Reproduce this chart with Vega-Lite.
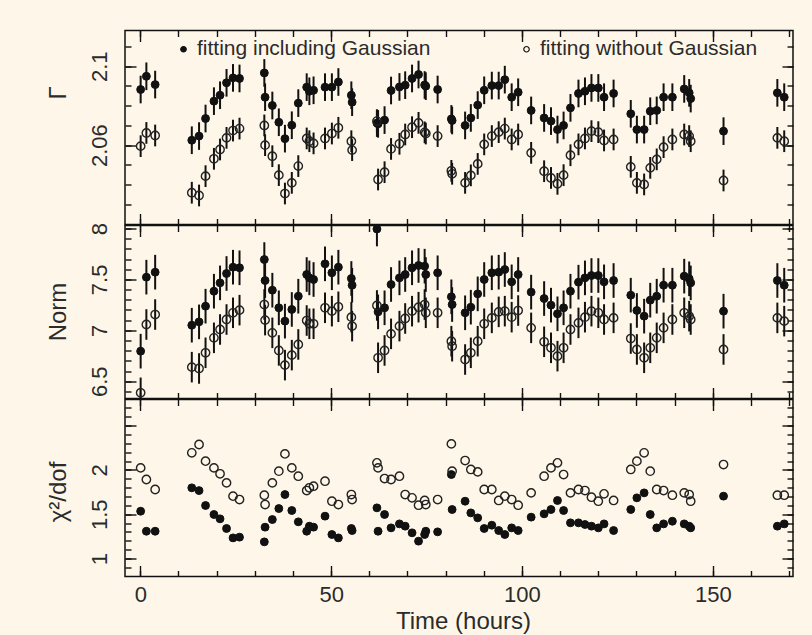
{
"$schema":"https://vega.github.io/schema/vega-lite/v6.json",
"background":"#fef7e9",
"padding":{"left":45,"top":28.5,"right":19,"bottom":2},
"bounds":"flush",
"spacing":1,
"resolve":{"scale":{"fill":"independent"}},
"config":{
 "view":{"stroke":"#111","strokeWidth":1.5},
 "axis":{"domain":false,"grid":false,"labelFont":"Liberation Sans","labelFontSize":22,"labelColor":"#2b2b2b","titleFont":"Liberation Sans","titleFontSize":24,"titleColor":"#2b2b2b","titleFontWeight":"normal","tickColor":"#111","tickWidth":1.4,"labelFlush":false,"labelOverlap":false,"labelBound":false},
 "legend":{"labelFont":"Liberation Sans","labelLimit":0}
},
"datasets":{"obs":[
{"t":0.1,"g1":2.0882,"g2":2.0595,"n1":6.795,"n2":6.386,"c1":1.534,"c2":2.023,"e1":0.007,"e2":0.0055,"f1":0.17,"f2":0.15},
{"t":1.6,"g1":2.0949,"g2":2.0662,"n1":7.522,"n2":7.057,"c1":1.308,"c2":1.892,"e1":0.007,"e2":0.0055,"f1":0.17,"f2":0.15},
{"t":3.9,"g1":2.0907,"g2":2.0649,"n1":7.571,"n2":7.155,"c1":1.308,"c2":1.779,"e1":0.007,"e2":0.0055,"f1":0.17,"f2":0.15},
{"t":13.5,"g1":2.0625,"g2":2.0359,"n1":7.05,"n2":6.638,"c1":1.798,"c2":2.193,"e1":0.007,"e2":0.0055,"f1":0.17,"f2":0.15},
{"t":15.4,"g1":2.0646,"g2":2.0345,"n1":7.083,"n2":6.625,"c1":1.767,"c2":2.287,"e1":0.007,"e2":0.0055,"f1":0.17,"f2":0.15},
{"t":17.1,"g1":2.0735,"g2":2.0443,"n1":7.237,"n2":6.779,"c1":1.598,"c2":2.099,"e1":0.007,"e2":0.0055,"f1":0.17,"f2":0.15},
{"t":19.3,"g1":2.0823,"g2":2.0531,"n1":7.384,"n2":6.926,"c1":1.497,"c2":2.023,"e1":0.007,"e2":0.0055,"f1":0.17,"f2":0.15},
{"t":20.9,"g1":2.0853,"g2":2.0578,"n1":7.466,"n2":7.008,"c1":1.448,"c2":1.956,"e1":0.007,"e2":0.0055,"f1":0.17,"f2":0.15},
{"t":22.6,"g1":2.0916,"g2":2.0637,"n1":7.558,"n2":7.106,"c1":1.339,"c2":1.854,"e1":0.007,"e2":0.0055,"f1":0.17,"f2":0.15},
{"t":24.3,"g1":2.0941,"g2":2.0674,"n1":7.62,"n2":7.172,"c1":1.233,"c2":1.704,"e1":0.007,"e2":0.0055,"f1":0.17,"f2":0.15},
{"t":26.0,"g1":2.0938,"g2":2.0684,"n1":7.614,"n2":7.198,"c1":1.241,"c2":1.666,"e1":0.007,"e2":0.0055,"f1":0.17,"f2":0.15},
{"t":32.5,"g1":2.0966,"g2":2.07,"n1":7.695,"n2":7.253,"c1":1.188,"c2":1.715,"e1":0.007,"e2":0.0055,"f1":0.17,"f2":0.15},
{"t":32.7,"g1":2.0843,"g2":2.06,"n1":7.489,"n2":7.1,"c1":1.354,"c2":1.609,"e1":0.007,"e2":0.0055,"f1":0.17,"f2":0.15},
{"t":34.6,"g1":2.0801,"g2":2.0544,"n1":7.394,"n2":6.975,"c1":1.44,"c2":1.854,"e1":0.007,"e2":0.0055,"f1":0.17,"f2":0.15},
{"t":36.3,"g1":2.0716,"g2":2.0448,"n1":7.221,"n2":6.802,"c1":1.564,"c2":1.986,"e1":0.007,"e2":0.0055,"f1":0.17,"f2":0.15},
{"t":37.9,"g1":2.0633,"g2":2.0355,"n1":7.09,"n2":6.658,"c1":1.722,"c2":2.181,"e1":0.007,"e2":0.0055,"f1":0.17,"f2":0.15},
{"t":39.7,"g1":2.0701,"g2":2.0409,"n1":7.205,"n2":6.756,"c1":1.542,"c2":2.023,"e1":0.007,"e2":0.0055,"f1":0.17,"f2":0.15},
{"t":41.4,"g1":2.0813,"g2":2.0494,"n1":7.335,"n2":6.861,"c1":1.414,"c2":1.929,"e1":0.007,"e2":0.0055,"f1":0.17,"f2":0.15},
{"t":43.6,"g1":2.0894,"g2":2.0634,"n1":7.548,"n2":7.096,"c1":1.308,"c2":1.767,"e1":0.007,"e2":0.0055,"f1":0.17,"f2":0.15},
{"t":44.3,"g1":2.0873,"g2":2.062,"n1":7.515,"n2":7.064,"c1":1.365,"c2":1.798,"e1":0.007,"e2":0.0055,"f1":0.17,"f2":0.15},
{"t":45.4,"g1":2.0878,"g2":2.0609,"n1":7.499,"n2":7.064,"c1":1.354,"c2":1.816,"e1":0.007,"e2":0.0055,"f1":0.17,"f2":0.15},
{"t":48.4,"g1":2.0894,"g2":2.0634,"n1":7.653,"n2":7.221,"c1":1.478,"c2":1.873,"e1":0.007,"e2":0.0055,"f1":0.17,"f2":0.15},
{"t":50.2,"g1":2.0894,"g2":2.0659,"n1":7.565,"n2":7.188,"c1":1.271,"c2":1.647,"e1":0.007,"e2":0.0055,"f1":0.17,"f2":0.15},
{"t":51.9,"g1":2.092,"g2":2.0688,"n1":7.62,"n2":7.231,"c1":1.233,"c2":1.609,"e1":0.007,"e2":0.0055,"f1":0.17,"f2":0.15},
{"t":55.3,"g1":2.0853,"g2":2.062,"n1":7.509,"n2":7.129,"c1":1.339,"c2":1.722,"e1":0.007,"e2":0.0055,"f1":0.17,"f2":0.15},
{"t":55.5,"g1":2.0818,"g2":2.0575,"n1":7.443,"n2":7.041,"c1":1.316,"c2":1.666,"e1":0.007,"e2":0.0055,"f1":0.17,"f2":0.15},
{"t":62.0,"g1":2.0712,"g2":2.0722,"n1":7.995,"n2":7.244,"c1":1.572,"c2":2.08,"e1":0.007,"e2":0.0055,"f1":0.17,"f2":0.15},
{"t":62.3,"g1":2.0708,"g2":2.0426,"n1":7.181,"n2":6.73,"c1":1.308,"c2":2.023,"e1":0.007,"e2":0.0055,"f1":0.17,"f2":0.15},
{"t":64.0,"g1":2.0727,"g2":2.0463,"n1":7.221,"n2":6.802,"c1":1.497,"c2":1.903,"e1":0.007,"e2":0.0055,"f1":0.17,"f2":0.15},
{"t":65.7,"g1":2.0877,"g2":2.0581,"n1":7.45,"n2":6.965,"c1":1.346,"c2":1.892,"e1":0.007,"e2":0.0055,"f1":0.17,"f2":0.15},
{"t":67.9,"g1":2.0895,"g2":2.0607,"n1":7.515,"n2":7.041,"c1":1.391,"c2":1.929,"e1":0.007,"e2":0.0055,"f1":0.17,"f2":0.15},
{"t":69.4,"g1":2.0904,"g2":2.0654,"n1":7.548,"n2":7.116,"c1":1.365,"c2":1.722,"e1":0.007,"e2":0.0055,"f1":0.17,"f2":0.15},
{"t":71.2,"g1":2.0938,"g2":2.0691,"n1":7.614,"n2":7.188,"c1":1.29,"c2":1.685,"e1":0.007,"e2":0.0055,"f1":0.17,"f2":0.15},
{"t":72.9,"g1":2.0958,"g2":2.0713,"n1":7.637,"n2":7.227,"c1":1.196,"c2":1.602,"e1":0.007,"e2":0.0055,"f1":0.17,"f2":0.15},
{"t":74.5,"g1":2.0905,"g2":2.0665,"n1":7.63,"n2":7.253,"c1":1.271,"c2":1.655,"e1":0.007,"e2":0.0055,"f1":0.17,"f2":0.15},
{"t":74.8,"g1":2.0899,"g2":2.0659,"n1":7.548,"n2":7.172,"c1":1.308,"c2":1.609,"e1":0.007,"e2":0.0055,"f1":0.17,"f2":0.15},
{"t":77.9,"g1":2.0882,"g2":2.0646,"n1":7.565,"n2":7.172,"c1":1.301,"c2":1.666,"e1":0.007,"e2":0.0055,"f1":0.17,"f2":0.15},
{"t":81.5,"g1":2.0733,"g2":2.047,"n1":7.329,"n2":6.893,"c1":1.948,"c2":2.294,"e1":0.007,"e2":0.0055,"f1":0.17,"f2":0.15},
{"t":81.7,"g1":2.0725,"g2":2.0455,"n1":7.253,"n2":6.844,"c1":1.553,"c2":1.986,"e1":0.007,"e2":0.0055,"f1":0.17,"f2":0.15},
{"t":85.1,"g1":2.07,"g2":2.0409,"n1":7.172,"n2":6.713,"c1":1.647,"c2":2.106,"e1":0.007,"e2":0.0055,"f1":0.17,"f2":0.15},
{"t":86.6,"g1":2.0738,"g2":2.0447,"n1":7.227,"n2":6.779,"c1":1.515,"c2":2.005,"e1":0.007,"e2":0.0055,"f1":0.17,"f2":0.15},
{"t":88.4,"g1":2.0803,"g2":2.0505,"n1":7.358,"n2":6.893,"c1":1.459,"c2":1.978,"e1":0.007,"e2":0.0055,"f1":0.17,"f2":0.15},
{"t":90.1,"g1":2.0878,"g2":2.0604,"n1":7.499,"n2":7.064,"c1":1.339,"c2":1.779,"e1":0.007,"e2":0.0055,"f1":0.17,"f2":0.15},
{"t":92.1,"g1":2.0902,"g2":2.0646,"n1":7.565,"n2":7.122,"c1":1.376,"c2":1.779,"e1":0.007,"e2":0.0055,"f1":0.17,"f2":0.15},
{"t":93.9,"g1":2.0902,"g2":2.0666,"n1":7.571,"n2":7.181,"c1":1.316,"c2":1.655,"e1":0.007,"e2":0.0055,"f1":0.17,"f2":0.15},
{"t":95.5,"g1":2.0932,"g2":2.0684,"n1":7.597,"n2":7.188,"c1":1.271,"c2":1.704,"e1":0.007,"e2":0.0055,"f1":0.17,"f2":0.15},
{"t":97.3,"g1":2.0843,"g2":2.0629,"n1":7.476,"n2":7.129,"c1":1.346,"c2":1.666,"e1":0.007,"e2":0.0055,"f1":0.17,"f2":0.15},
{"t":99.0,"g1":2.0868,"g2":2.0654,"n1":7.548,"n2":7.194,"c1":1.316,"c2":1.602,"e1":0.007,"e2":0.0055,"f1":0.17,"f2":0.15},
{"t":102.4,"g1":2.0776,"g2":2.0561,"n1":7.375,"n2":7.024,"c1":1.467,"c2":1.741,"e1":0.007,"e2":0.0055,"f1":0.17,"f2":0.15},
{"t":105.8,"g1":2.0738,"g2":2.0468,"n1":7.312,"n2":6.887,"c1":1.504,"c2":1.929,"e1":0.007,"e2":0.0055,"f1":0.17,"f2":0.15},
{"t":107.6,"g1":2.0722,"g2":2.0434,"n1":7.247,"n2":6.828,"c1":1.553,"c2":2.023,"e1":0.007,"e2":0.0055,"f1":0.17,"f2":0.15},
{"t":109.3,"g1":2.0679,"g2":2.0404,"n1":7.162,"n2":6.746,"c1":1.655,"c2":2.08,"e1":0.007,"e2":0.0055,"f1":0.17,"f2":0.15},
{"t":110.9,"g1":2.07,"g2":2.0448,"n1":7.221,"n2":6.828,"c1":1.542,"c2":1.948,"e1":0.007,"e2":0.0055,"f1":0.17,"f2":0.15},
{"t":112.7,"g1":2.0789,"g2":2.0549,"n1":7.384,"n2":7.008,"c1":1.403,"c2":1.741,"e1":0.007,"e2":0.0055,"f1":0.17,"f2":0.15},
{"t":114.8,"g1":2.0862,"g2":2.0604,"n1":7.473,"n2":7.073,"c1":1.403,"c2":1.779,"e1":0.007,"e2":0.0055,"f1":0.17,"f2":0.15},
{"t":116.5,"g1":2.0873,"g2":2.0634,"n1":7.515,"n2":7.129,"c1":1.384,"c2":1.767,"e1":0.007,"e2":0.0055,"f1":0.17,"f2":0.15},
{"t":118.2,"g1":2.089,"g2":2.0671,"n1":7.538,"n2":7.188,"c1":1.365,"c2":1.692,"e1":0.007,"e2":0.0055,"f1":0.17,"f2":0.15},
{"t":120.0,"g1":2.089,"g2":2.0666,"n1":7.538,"n2":7.172,"c1":1.346,"c2":1.647,"e1":0.007,"e2":0.0055,"f1":0.17,"f2":0.15},
{"t":121.5,"g1":2.0843,"g2":2.0624,"n1":7.476,"n2":7.106,"c1":1.391,"c2":1.73,"e1":0.007,"e2":0.0055,"f1":0.17,"f2":0.15},
{"t":124.0,"g1":2.0862,"g2":2.0629,"n1":7.489,"n2":7.122,"c1":1.316,"c2":1.655,"e1":0.007,"e2":0.0055,"f1":0.17,"f2":0.15},
{"t":128.5,"g1":2.0759,"g2":2.049,"n1":7.345,"n2":6.919,"c1":1.553,"c2":2.005,"e1":0.007,"e2":0.0055,"f1":0.17,"f2":0.15},
{"t":130.1,"g1":2.0679,"g2":2.0409,"n1":7.195,"n2":6.812,"c1":1.685,"c2":2.099,"e1":0.007,"e2":0.0055,"f1":0.17,"f2":0.15},
{"t":132.0,"g1":2.0679,"g2":2.0401,"n1":7.139,"n2":6.73,"c1":1.741,"c2":2.193,"e1":0.007,"e2":0.0055,"f1":0.17,"f2":0.15},
{"t":133.6,"g1":2.0772,"g2":2.0485,"n1":7.296,"n2":6.828,"c1":1.497,"c2":1.986,"e1":0.007,"e2":0.0055,"f1":0.17,"f2":0.15},
{"t":135.3,"g1":2.0776,"g2":2.0528,"n1":7.335,"n2":6.926,"c1":1.346,"c2":1.779,"e1":0.007,"e2":0.0055,"f1":0.17,"f2":0.15},
{"t":137.1,"g1":2.0843,"g2":2.059,"n1":7.443,"n2":7.024,"c1":1.391,"c2":1.767,"e1":0.007,"e2":0.0055,"f1":0.17,"f2":0.15},
{"t":139.4,"g1":2.0843,"g2":2.0629,"n1":7.443,"n2":7.106,"c1":1.421,"c2":1.715,"e1":0.007,"e2":0.0055,"f1":0.17,"f2":0.15},
{"t":142.5,"g1":2.0885,"g2":2.0654,"n1":7.532,"n2":7.172,"c1":1.391,"c2":1.741,"e1":0.007,"e2":0.0055,"f1":0.17,"f2":0.15},
{"t":143.8,"g1":2.0865,"g2":2.0646,"n1":7.506,"n2":7.139,"c1":1.365,"c2":1.722,"e1":0.007,"e2":0.0055,"f1":0.17,"f2":0.15},
{"t":144.2,"g1":2.0836,"g2":2.062,"n1":7.466,"n2":7.106,"c1":1.346,"c2":1.647,"e1":0.007,"e2":0.0055,"f1":0.17,"f2":0.15},
{"t":152.8,"g1":2.0671,"g2":2.0421,"n1":7.188,"n2":6.812,"c1":1.704,"c2":2.061,"e1":0.007,"e2":0.0055,"f1":0.17,"f2":0.15},
{"t":166.9,"g1":2.0865,"g2":2.0637,"n1":7.489,"n2":7.122,"c1":1.365,"c2":1.715,"e1":0.007,"e2":0.0055,"f1":0.17,"f2":0.15},
{"t":168.7,"g1":2.0843,"g2":2.062,"n1":7.443,"n2":7.09,"c1":1.391,"c2":1.715,"e1":0.007,"e2":0.0055,"f1":0.17,"f2":0.15}
]},
"vconcat":[
{"width":668,"height":194,"data":{"name":"obs"},
 "resolve":{"axis":{"x":"independent","y":"independent"}},
 "layer":[
  {"mark":{"type":"errorbar","thickness":2,"color":"#111"},
   "encoding":{
    "x":{"field":"t","type":"quantitative","scale":{"domain":[-4,171],"nice":false,"zero":false},"axis":{"orient":"bottom","values":[0,50,100,150],"tickSize":-11,"labels":false,"title":null}},
    "y":{"field":"g1","type":"quantitative","scale":{"domain":[2.0198,2.1181],"nice":false,"zero":false},"axis":{"orient":"left","values":[2.06,2.1],"format":"~r","tickSize":-11,"labelPadding":30,"labelAngle":270,"labelAlign":"center","labelBaseline":"alphabetic","title":"Γ","titleAngle":270,"titleX":-60,"titleY":62,"titleAlign":"center","titleBaseline":"alphabetic"}},
    "yError":{"field":"e1"}}},
  {"mark":{"type":"errorbar","thickness":2,"color":"#111"},
   "encoding":{
    "x":{"field":"t","type":"quantitative","scale":{"domain":[-4,171],"nice":false,"zero":false},"axis":{"orient":"top","values":[0,50,100,150],"tickSize":-11,"labels":false,"title":null}},
    "y":{"field":"g2","type":"quantitative","scale":{"domain":[2.0198,2.1181],"nice":false,"zero":false},"axis":{"orient":"right","values":[2.06,2.1],"tickSize":-11,"labels":false,"title":null}},
    "yError":{"field":"e2"}}},
  {"mark":{"type":"point","shape":"circle","filled":true,"stroke":"#111","strokeWidth":1,"size":62,"opacity":1},
   "encoding":{
    "x":{"field":"t","type":"quantitative","scale":{"domain":[-4,171],"nice":false,"zero":false},"axis":{"orient":"bottom","values":[0,10,20,30,40,50,60,70,80,90,100,110,120,130,140,150,160,170],"tickSize":-6,"labels":false,"title":null}},
    "y":{"field":"g1","type":"quantitative","scale":{"domain":[2.0198,2.1181],"nice":false,"zero":false},"axis":{"orient":"left","values":[2.03,2.04,2.05,2.06,2.07,2.08,2.09,2.1,2.11],"tickSize":-6,"labels":false,"title":null}},
    "fill":{"datum":"fitting including Gaussian","type":"nominal","scale":{"domain":["fitting including Gaussian","fitting without Gaussian"],"range":["#111","transparent"]},
      "legend":{"orient":"none","legendX":48,"legendY":8,"direction":"horizontal","title":null,"labelFontSize":21,"labelColor":"#2b2b2b","labelLimit":0,"symbolType":"circle","symbolSize":30,"symbolStrokeColor":"#111","symbolStrokeWidth":1.2,"labelOffset":3,"columnPadding":85,"padding":0}}}},
  {"mark":{"type":"point","shape":"circle","filled":true,"stroke":"#222","strokeWidth":1.4,"size":70,"opacity":1},
   "encoding":{
    "x":{"field":"t","type":"quantitative","scale":{"domain":[-4,171],"nice":false,"zero":false},"axis":{"orient":"top","values":[0,10,20,30,40,50,60,70,80,90,100,110,120,130,140,150,160,170],"tickSize":-6,"labels":false,"title":null}},
    "y":{"field":"g2","type":"quantitative","scale":{"domain":[2.0198,2.1181],"nice":false,"zero":false},"axis":{"orient":"right","values":[2.03,2.04,2.05,2.06,2.07,2.08,2.09,2.1,2.11],"tickSize":-6,"labels":false,"title":null}},
    "fill":{"datum":"fitting without Gaussian","type":"nominal"}}}
 ]},
{"width":668,"height":173,"data":{"name":"obs"},
 "resolve":{"axis":{"x":"independent","y":"independent"}},
 "layer":[
  {"mark":{"type":"errorbar","thickness":2,"color":"#111"},
   "encoding":{
    "x":{"field":"t","type":"quantitative","scale":{"domain":[-4,171],"nice":false,"zero":false},"axis":{"orient":"bottom","values":[0,50,100,150],"tickSize":-11,"labels":false,"title":null}},
    "y":{"field":"n1","type":"quantitative","scale":{"domain":[6.33,8.0295],"nice":false,"zero":false,"clamp":true},"axis":{"orient":"left","values":[6.5,7,7.5,8],"format":"~r","tickSize":-11,"labelPadding":30,"labelAngle":270,"labelAlign":"center","labelBaseline":"alphabetic","title":"Norm","titleAngle":270,"titleX":-60,"titleY":86,"titleAlign":"center","titleBaseline":"alphabetic"}},
    "yError":{"field":"f1"}}},
  {"mark":{"type":"errorbar","thickness":2,"color":"#111"},
   "encoding":{
    "x":{"field":"t","type":"quantitative","scale":{"domain":[-4,171],"nice":false,"zero":false},"axis":{"orient":"top","values":[0,50,100,150],"tickSize":-11,"labels":false,"title":null}},
    "y":{"field":"n2","type":"quantitative","scale":{"domain":[6.33,8.0295],"nice":false,"zero":false,"clamp":true},"axis":{"orient":"right","values":[6.5,7,7.5,8],"tickSize":-11,"labels":false,"title":null}},
    "yError":{"field":"f2"}}},
  {"mark":{"type":"point","shape":"circle","filled":true,"fill":"#111","stroke":"#111","strokeWidth":1,"size":62,"opacity":1},
   "encoding":{
    "x":{"field":"t","type":"quantitative","scale":{"domain":[-4,171],"nice":false,"zero":false},"axis":{"orient":"bottom","values":[0,10,20,30,40,50,60,70,80,90,100,110,120,130,140,150,160,170],"tickSize":-6,"labels":false,"title":null}},
    "y":{"field":"n1","type":"quantitative","scale":{"domain":[6.33,8.0295],"nice":false,"zero":false,"clamp":true},"axis":{"orient":"left","values":[6.4,6.5,6.6,6.7,6.8,6.9,7,7.1,7.2,7.3,7.4,7.5,7.6,7.7,7.8,7.9,8],"tickSize":-6,"labels":false,"title":null}}}},
  {"mark":{"type":"point","shape":"circle","filled":false,"stroke":"#222","strokeWidth":1.4,"size":70,"opacity":1},
   "encoding":{
    "x":{"field":"t","type":"quantitative","scale":{"domain":[-4,171],"nice":false,"zero":false},"axis":{"orient":"top","values":[0,10,20,30,40,50,60,70,80,90,100,110,120,130,140,150,160,170],"tickSize":-6,"labels":false,"title":null}},
    "y":{"field":"n2","type":"quantitative","scale":{"domain":[6.33,8.0295],"nice":false,"zero":false,"clamp":true},"axis":{"orient":"right","values":[6.4,6.5,6.6,6.7,6.8,6.9,7,7.1,7.2,7.3,7.4,7.5,7.6,7.7,7.8,7.9,8],"tickSize":-6,"labels":false,"title":null}}}}
 ]},
{"width":668,"height":177,"data":{"name":"obs"},
 "resolve":{"axis":{"x":"independent","y":"independent"}},
 "layer":[
  {"mark":{"type":"point","shape":"circle","filled":true,"fill":"#111","stroke":"#111","strokeWidth":1,"size":62,"opacity":1},
   "encoding":{
    "x":{"field":"t","type":"quantitative","scale":{"domain":[-4,171],"nice":false,"zero":false},"axis":{"orient":"bottom","values":[0,50,100,150],"format":"~r","tickSize":-11,"labelPadding":36,"labelAlign":"center","labelBaseline":"alphabetic","title":"Time (hours)","titleX":338,"titleY":52,"titleAlign":"center","titleBaseline":"alphabetic"}},
    "y":{"field":"c1","type":"quantitative","scale":{"domain":[0.797,2.795],"nice":false,"zero":false},"axis":{"orient":"left","values":[1,1.5,2,2.5],"format":"~r","labelExpr":"datum.value > 2.2 ? '' : datum.label","tickSize":-11,"labelPadding":30,"labelAngle":270,"labelAlign":"center","labelBaseline":"alphabetic","title":"χ²/dof","titleAngle":270,"titleX":-60,"titleY":92,"titleAlign":"center","titleBaseline":"alphabetic"}}}},
  {"mark":{"type":"point","shape":"circle","filled":false,"stroke":"#222","strokeWidth":1.4,"size":70,"opacity":1},
   "encoding":{
    "x":{"field":"t","type":"quantitative","scale":{"domain":[-4,171],"nice":false,"zero":false},"axis":{"orient":"top","values":[0,50,100,150],"tickSize":-11,"labels":false,"title":null}},
    "y":{"field":"c2","type":"quantitative","scale":{"domain":[0.797,2.795],"nice":false,"zero":false},"axis":{"orient":"right","values":[1,1.5,2,2.5],"tickSize":-11,"labels":false,"title":null}}}},
  {"mark":{"type":"point","opacity":0},
   "encoding":{
    "x":{"field":"t","type":"quantitative","scale":{"domain":[-4,171],"nice":false,"zero":false},"axis":{"orient":"bottom","values":[0,10,20,30,40,50,60,70,80,90,100,110,120,130,140,150,160,170],"tickSize":-6,"labels":false,"title":null}},
    "y":{"field":"c1","type":"quantitative","scale":{"domain":[0.797,2.795],"nice":false,"zero":false},"axis":{"orient":"left","values":[0.9,1,1.1,1.2,1.3,1.4,1.5,1.6,1.7,1.8,1.9,2,2.1,2.2,2.3,2.4,2.5,2.6,2.7],"tickSize":-6,"labels":false,"title":null}}}},
  {"mark":{"type":"point","opacity":0},
   "encoding":{
    "x":{"field":"t","type":"quantitative","scale":{"domain":[-4,171],"nice":false,"zero":false},"axis":{"orient":"top","values":[0,10,20,30,40,50,60,70,80,90,100,110,120,130,140,150,160,170],"tickSize":-6,"labels":false,"title":null}},
    "y":{"field":"c2","type":"quantitative","scale":{"domain":[0.797,2.795],"nice":false,"zero":false},"axis":{"orient":"right","values":[0.9,1,1.1,1.2,1.3,1.4,1.5,1.6,1.7,1.8,1.9,2,2.1,2.2,2.3,2.4,2.5,2.6,2.7],"tickSize":-6,"labels":false,"title":null}}}}
 ]}
]
}
